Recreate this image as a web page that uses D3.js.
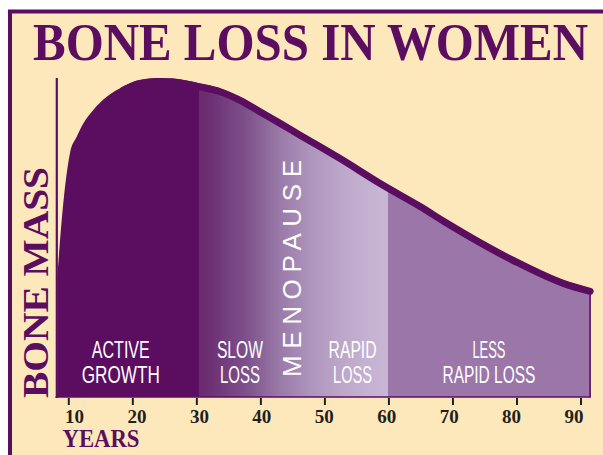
<!DOCTYPE html>
<html><head><meta charset="utf-8">
<script src="https://cdn.jsdelivr.net/npm/d3@7"></script>
<style>html,body{margin:0;padding:0;background:#fff;}svg{display:block;}</style>
</head><body>
<script>
// ---- data ----
const ages = [8.28, 9.22, 10.27, 11.31, 12.34, 13.91, 16.0, 18.59, 21.2, 24.33, 26.36, 30.58, 33.7, 36.83, 39.95, 43.08, 46.2, 49.33, 52.45, 58.7, 64.95, 69.2, 79.5, 87.3, 91.5];
const boneMass = [37.5, 60.6, 76.25, 81.3, 85.5, 89.7, 93.8, 97.0, 99.1, 99.7, 99.5, 98.0, 96.5, 93.8, 90.2, 86.6, 82.9, 79.3, 75.6, 67.8, 60.6, 55.3, 43.75, 36.6, 34.1];
const tickYears = [10, 20, 30, 40, 50, 60, 70, 80, 90];
const phaseNames = [["ACTIVE", "GROWTH"], ["SLOW", "LOSS"], ["RAPID", "LOSS"], ["LESS", "RAPID LOSS"]];
const phaseCenters = [18.2, 36.8, 54.4, 75.7];
const phaseBounds = [8, 30.4, 60, 91.5];
const title = "BONE LOSS IN WOMEN";
const yTitle = "BONE MASS";
const xTitle = "YEARS";
const menopause = "MENOPAUSE";

const W = 603, H = 455;
const purple = "#5B0E60", cream = "#FDE8BC";
const svg = d3.select("body").append("svg").attr("width", W).attr("height", H);

// frame
svg.append("rect").attr("x", 10).attr("y", 11.5).attr("width", 640).attr("height", 500)
  .attr("fill", cream).attr("stroke", purple).attr("stroke-width", 4);

// title
svg.append("text").attr("transform", "translate(33,60) scale(1,1.08)").text(title)
  .attr("font-family", "Liberation Serif, Times New Roman, serif").attr("font-weight", "bold")
  .attr("font-size", 48.5).attr("fill", purple)
  .attr("textLength", 555).attr("lengthAdjust", "spacingAndGlyphs");

const x = d3.scaleLinear().domain([10, 90]).range([68.3, 580.5]);
const y = d3.scaleLinear().domain([0, 100]).range([397, 77]);
const labelX = d3.scaleLinear().domain([10, 90]).range([74.5, 574]);
const data = ages.map((a, i) => ({a, m: boneMass[i]}));

// gradient
const defs = svg.append("defs");
const g = defs.append("linearGradient").attr("id", "phase").attr("gradientUnits", "userSpaceOnUse")
  .attr("x1", x(phaseBounds[0])).attr("x2", x(phaseBounds[3])).attr("y1", 0).attr("y2", 0);
const span = phaseBounds[3] - phaseBounds[0];
const off = yr => (yr - phaseBounds[0]) / span;
[[phaseBounds[0], purple], [phaseBounds[1], purple], [phaseBounds[1] + 0.01, "#6A2A6E"],
 [32.5, "#6E3274"], [38, "#7E528C"], [43, "#9A7AA8"], [48, "#AE95BD"], [53, "#BEA8CA"],
 [57.5, "#C6B3D3"], [phaseBounds[2], "#C8B6D4"], [phaseBounds[2] + 0.01, "#9A77A8"], [phaseBounds[3], "#9A77A8"]]
 .forEach(([yr, c]) => g.append("stop").attr("offset", off(yr)).attr("stop-color", c));

const curve = d3.curveMonotoneX;
const area = d3.area().x(d => x(d.a)).y0(y(0)).y1(d => y(d.m)).curve(curve);
svg.append("path").datum(data).attr("d", area).attr("fill", "url(#phase)");

// thick outline of curve (top edge aligned with the fill edge)
const sw = 7;
const line = d3.line().x(d => x(d.a)).y(d => y(d.m) + sw / 2).curve(curve);
svg.append("path").datum(data.filter(d => d.a >= 18)).attr("d", line)
  .attr("fill", "none").attr("stroke", purple).attr("stroke-width", sw).attr("stroke-linecap", "round");

// y axis line
svg.append("line").attr("x1", 56.8).attr("x2", 56.8).attr("y1", 78).attr("y2", 398)
  .attr("stroke", purple).attr("stroke-width", 2.2);
// bottom & right border
const last = data[data.length - 1];
svg.append("path").attr("d", `M${x(phaseBounds[0])},${y(0)}H${x(last.a)}V${y(last.m) + sw / 2}`)
  .attr("fill", "none").attr("stroke", purple).attr("stroke-width", 1.6);

// x axis ticks
const axis = d3.axisBottom(x).tickValues(tickYears).tickSize(7).tickFormat("");
const ag = svg.append("g").attr("transform", `translate(0,${y(0) + 1})`).call(axis);
ag.select(".domain").remove();
ag.selectAll(".tick line").attr("stroke", "#231F20").attr("stroke-width", 2);
svg.selectAll(".ticklabel").data(tickYears).join("text")
  .attr("x", d => labelX(d)).attr("y", 423).attr("text-anchor", "middle").text(d => d)
  .attr("font-family", "Liberation Serif, Times New Roman, serif").attr("font-weight", "bold")
  .attr("font-size", 19).attr("fill", "#231F20");

// axis titles
svg.append("text").attr("x", 62.5).attr("y", 447).text(xTitle)
  .attr("font-family", "Liberation Serif, Times New Roman, serif").attr("font-weight", "bold")
  .attr("font-size", 25).attr("fill", purple).attr("textLength", 77).attr("lengthAdjust", "spacingAndGlyphs");
svg.append("text").attr("transform", "translate(47.5,282.5) rotate(-90)").attr("text-anchor", "middle").text(yTitle)
  .attr("font-family", "Liberation Serif, Times New Roman, serif").attr("font-weight", "bold")
  .attr("font-size", 35).attr("fill", purple).attr("textLength", 231).attr("lengthAdjust", "spacingAndGlyphs");

// phase labels
const widths = [[58, 78], [46, 40], [48, 39], [33, 93]];
phaseNames.forEach((lines, i) => {
  lines.forEach((t, j) => {
    svg.append("text").attr("x", x(phaseCenters[i])).attr("y", 358 + j * 25).attr("text-anchor", "middle").text(t)
      .attr("font-family", "Liberation Sans Narrow, Liberation Sans, Arial, sans-serif")
      .attr("font-size", 24).attr("fill", "#fff")
      .attr("textLength", widths[i][j]).attr("lengthAdjust", "spacingAndGlyphs");
  });
});

// menopause
svg.append("text").attr("transform", `translate(${x(46.3)},268.5) rotate(-90)`).attr("text-anchor", "middle")
  .text(menopause).attr("font-family", "Liberation Sans, Arial, sans-serif").attr("font-size", 26)
  .attr("fill", "#fff").attr("textLength", 217).attr("lengthAdjust", "spacing");
</script>
</body></html>
